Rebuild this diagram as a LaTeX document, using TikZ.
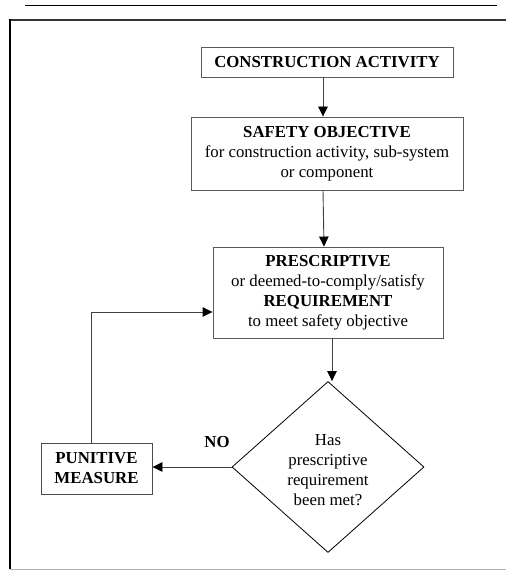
\documentclass[tikz,border=0pt]{standalone}
\usepackage{fontspec}
\setmainfont{Liberation Serif}
\usetikzlibrary{arrows.meta,shapes.geometric}

\tikzset{
  box/.style={draw=black!65, line width=0.9pt, align=center, inner sep=0pt},
  flow/.style={-{Triangle[length=10pt,width=9.5pt,color=black]}, line width=0.9pt, draw=black!75}
}

\begin{document}
\begin{tikzpicture}[x=1pt, y=-1pt, font=\fontsize{16.8}{20}\selectfont]
  \useasboundingbox (0,0) rectangle (506,572);

  % page rule and frame
  \draw[line width=1pt] (25,6) -- (497,6);
  \draw[line width=2pt, black!80] (506,20) -- (10,20);
  \draw[line width=2.2pt] (10,19) -- (10,569);
  \draw[line width=1pt, black!30] (10,569) -- (506,569);

  \node[box, minimum width=252pt, minimum height=30pt] (act) at (327,62) {\textbf{CONSTRUCTION ACTIVITY}};
  \node[box, minimum width=272pt, minimum height=73pt] (safety) at (327,153.5)
    {\textbf{SAFETY OBJECTIVE}\\for construction activity, sub-system\\or component};
  \node[box, minimum width=230pt, minimum height=91pt] (presc) at (328,292.5)
    {\textbf{PRESCRIPTIVE}\\or deemed-to-comply/satisfy\\\textbf{REQUIREMENT}\\to meet safety objective};
  \node[box, draw=black, line width=0.8pt, diamond, minimum width=192pt, minimum height=171pt] (check) at (328,467)
    {\\[-2pt]Has\\prescriptive\\requirement\\been met?};
  \node[box, draw=black!70, minimum width=111pt, minimum height=51pt] (punish) at (96.5,468.5)
    {\textbf{PUNITIVE}\\\textbf{MEASURE}};

  \draw[flow] ([xshift=-4pt]act.south) -- ([xshift=-4pt]safety.north);
  \draw[flow] ([xshift=-4pt]safety.south) -- ([xshift=-4pt]presc.north);
  \draw[flow] ([xshift=4pt]presc.south) -- ([xshift=4pt]check.north);
  \draw[flow] (check.west) -- (check.west -| punish.east);
  \draw[flow] ([xshift=-5pt]punish.north) |- ([yshift=-19.5pt]presc.west);

  \node[font=\fontsize{16.8}{20}\selectfont\bfseries] (no) at (217,442) {NO};
\end{tikzpicture}
\end{document}
